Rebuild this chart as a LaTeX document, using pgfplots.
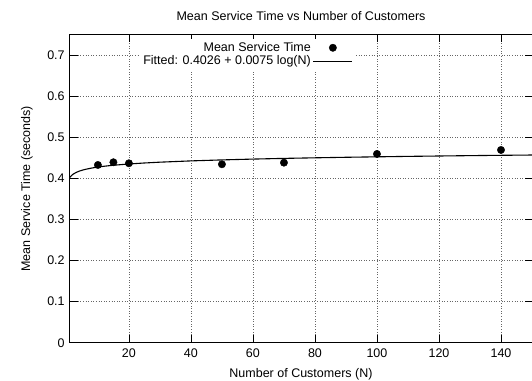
\documentclass[border=0pt]{standalone}
\usepackage{fontspec}
\setmainfont{Liberation Sans}
\usepackage{pgfplots}
\pgfplotsset{compat=1.18}
\begin{document}
\fontsize{12.5bp}{14bp}\selectfont
\begin{tikzpicture}
\begin{axis}[
  scale only axis,
  width=462bp, height=308.3bp,
  xmin=1, xmax=150, ymin=0, ymax=0.75,
  xtick={20,40,60,80,100,120,140},
  ytick={0,0.1,0.2,0.3,0.4,0.5,0.6,0.7},
  /pgf/number format/assume math mode=true,
  yticklabel style={/pgf/number format/fixed,/pgf/number format/precision=1},
  tick align=inside,
  major tick length=7.5bp,
  tick style={black, line width=0.8bp},
  axis line style={line width=1bp},
  grid=major,
  major grid style={black!60, line width=0.6bp, dash pattern=on 0.8bp off 1.8bp},
  ticklabel style={font=\fontsize{12.5bp}{14bp}\selectfont},
  xticklabel style={yshift=-2bp},
  yticklabel style={xshift=-1bp},
  legend plot pos=right,
  legend cell align=right,
  legend style={draw=none, fill=white, at={(rel axis cs:0.615,0.985)}, anchor=north east,
    font=\fontsize{12.5bp}{14bp}\selectfont, inner sep=1bp, row sep=-1.5bp},
  clip=false,
]
\addplot[only marks, mark=*, mark size=3.7bp, black,
  legend image code/.code={\fill[black] (19.5bp,0) circle[radius=3.7bp];\path[draw=none,fill=none] (0,0) -- (39bp,0);}]
  coordinates {(10,0.4326) (15,0.4392) (20,0.4367) (50,0.4343) (70,0.4382) (100,0.4594) (140,0.4691)};
\addlegendentry{Mean Service Time}
\addplot[black, line width=1.1bp, mark=none,
  legend image code/.code={\draw[black, line width=1.1bp] (0,0) -- (39bp,0);}]
  coordinates {(1,0.4026) (1.5,0.4070) (2,0.4101) (3,0.4145) (4,0.4176) (5,0.4200) (6,0.4220) (8,0.4251)
  (10,0.4275) (12,0.4295) (15,0.4319) (20,0.4350) (25,0.4374) (30,0.4394) (40,0.4425) (50,0.4449)
  (60,0.4469) (70,0.4486) (80,0.4500) (90,0.4513) (100,0.4524) (110,0.4535) (120,0.4544)
  (130,0.4553) (140,0.4561) (150,0.4568)};
\addlegendentry{Fitted: 0.4026 + 0.0075 log(N)}
\end{axis}
\node at ([yshift=18.5bp]current axis.north) {Mean Service Time vs Number of Customers};
\node at ([yshift=-31bp]current axis.south) {Number of Customers (N)};
\node[rotate=90] at ([xshift=-43bp]current axis.west) {Mean Service Time (seconds)};
\pgfresetboundingbox
\path ([xshift=-70bp,yshift=-38.2bp]current axis.south west) rectangle ([yshift=34.5bp]current axis.north east);
\end{tikzpicture}
\end{document}
